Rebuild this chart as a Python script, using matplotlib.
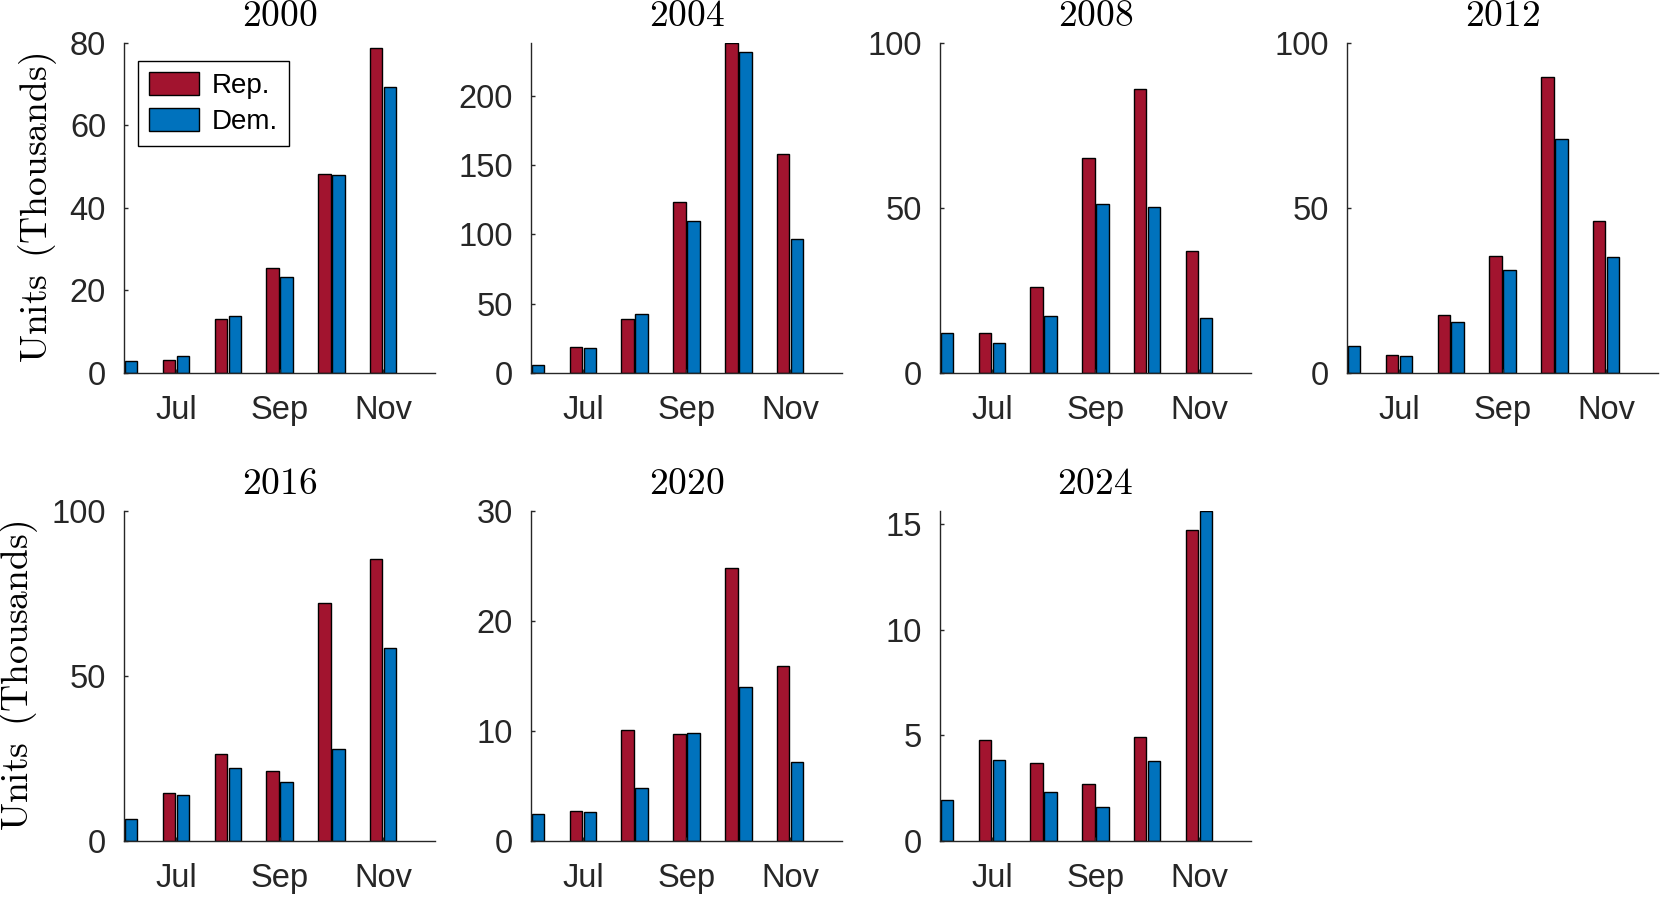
import numpy as np
import matplotlib
matplotlib.use("Agg")
import matplotlib.pyplot as plt

plt.rcParams["font.family"] = ["Liberation Sans", "DejaVu Sans"]
plt.rcParams["mathtext.fontset"] = "cm"

# monthly totals (thousands), Jun..Nov; Rep. June bar is outside the view
years = ["2000", "2004", "2008", "2012", "2016", "2020", "2024"]
months = ["Jun", "Jul", "Aug", "Sep", "Oct", "Nov"]
tick_months = ["Jul", "Sep", "Nov"]

rep_2000 = [np.nan, 3.2, 13.0, 25.4, 48.3, 78.8]
dem_2000 = [2.8, 4.2, 13.8, 23.3, 47.9, 69.3]
rep_2004 = [np.nan, 18.8, 39.0, 123.6, 238.1, 158.3]
dem_2004 = [6.0, 18.1, 42.9, 109.6, 231.3, 96.6]
rep_2008 = [np.nan, 12.1, 26.0, 65.1, 86.0, 37.0]
dem_2008 = [12.2, 9.2, 17.2, 51.2, 50.2, 16.8]
rep_2012 = [np.nan, 5.4, 17.6, 35.4, 89.6, 46.0]
dem_2012 = [8.1, 5.1, 15.5, 31.1, 70.9, 35.0]
rep_2016 = [np.nan, 14.4, 26.4, 21.1, 72.0, 85.4]
dem_2016 = [6.8, 13.9, 22.1, 17.9, 27.8, 58.5]
rep_2020 = [np.nan, 2.7, 10.1, 9.7, 24.8, 15.9]
dem_2020 = [2.5, 2.65, 4.8, 9.8, 14.0, 7.2]
rep_2024 = [np.nan, 4.8, 3.71, 2.70, 4.94, 14.7]
dem_2024 = [1.94, 3.84, 2.31, 1.61, 3.79, 15.62]

rep = [rep_2000, rep_2004, rep_2008, rep_2012, rep_2016, rep_2020, rep_2024]
dem = [dem_2000, dem_2004, dem_2008, dem_2012, dem_2016, dem_2020, dem_2024]
y_max = [80, 238.1, 100, 100, 100, 30, 15.62]
y_step = [20, 50, 50, 50, 50, 10, 5]

RED = "#A2142F"
BLUE = "#0072BD"
INK = "#262626"

fig = plt.figure(figsize=(16.61, 8.99), dpi=100)
lefts = [0.0747, 0.3197, 0.5659, 0.8110]
bottoms = [0.5851, 0.0645]
width, height = 0.1872, 0.3671

x = np.arange(len(months))
for i, year in enumerate(years):
    ax = fig.add_axes([lefts[i % 4], bottoms[i // 4], width, height])
    ax.bar(x - 0.135, rep[i], 0.24, color=RED, edgecolor="black",
           linewidth=1.0, label="Rep.")
    ax.bar(x + 0.135, dem[i], 0.24, color=BLUE, edgecolor="black",
           linewidth=1.0, label="Dem.")
    ax.set_xlim(0, 6)
    ax.set_ylim(0, y_max[i])
    ax.set_yticks(np.arange(0, y_max[i] + 0.01, y_step[i]))
    ax.set_xticks([months.index(m) for m in tick_months])
    ax.set_xticklabels(tick_months)
    for side in ("top", "right"):
        ax.spines[side].set_visible(False)
    for side in ("left", "bottom"):
        ax.spines[side].set_color(INK)
        ax.spines[side].set_linewidth(1.0)
    ax.tick_params(axis="both", direction="in", length=3, width=1.0,
                   colors=INK, labelsize=23.5)
    ax.tick_params(axis="x", pad=16)
    ax.tick_params(axis="y", pad=13)
    ax.set_title(r"$\mathrm{%s}$" % year, fontsize=27, pad=12)
    if i % 4 == 0:
        ax.set_ylabel(r"$\mathrm{Units\ \,(Thousands)}$", fontsize=27,
                      labelpad=8)
    if i == 0:
        leg = ax.legend(loc="upper left", bbox_to_anchor=(0.045, 0.945),
                        borderaxespad=0, fontsize=20, fancybox=False,
                        framealpha=1, edgecolor="black", handlelength=1.8,
                        handleheight=0.9, handletextpad=0.45,
                        labelspacing=0.3, borderpad=0.4)
        leg.get_frame().set_linewidth(1.0)

fig.savefig("out.png", dpi=100)
plt.close(fig)
